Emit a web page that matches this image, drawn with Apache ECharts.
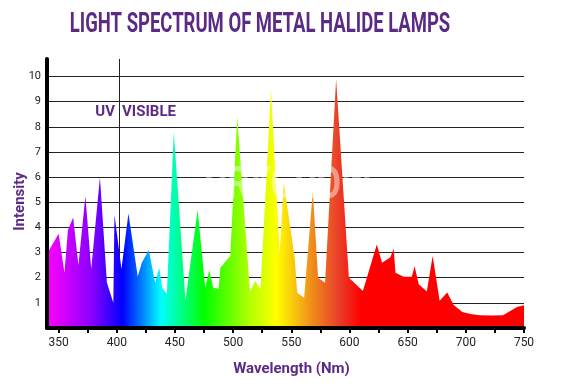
<!DOCTYPE html>
<html>
<head>
<meta charset="utf-8">
<script src="https://cdn.jsdelivr.net/npm/echarts@6/dist/echarts.min.js"></script>
<style>
html,body{margin:0;padding:0;background:#fff;}
#chart{width:575px;height:390px;}
</style>
</head>
<body>
<div id="chart"></div>
<script>
// ---- data ----
const wavelengths = [340,350,355,358,362.5,367,373,378,385.5,391.5,397,398,404,410,418,421.5,427.5,433,436.5,439,443,449,459,469.5,476,479.5,483,487.5,489,497.5,503.5,514.5,519,523.5,532.5,540,543.5,553,555,561,568.5,573,579,588.5,599.5,611.5,623.5,628,635,638,639.5,646.5,653.5,656,659.5,666.5,671.5,677.5,684,689.5,697,704,712,722,732,744,750];
const intensities = [2.95,3.75,2.2,3.9,4.4,2.5,5.25,2.35,6.0,1.8,1.0,4.5,2.35,4.55,2.05,2.6,3.1,1.8,2.4,1.6,1.35,7.8,1.1,4.7,1.6,2.3,1.6,1.55,2.4,2.86,8.4,1.45,1.87,1.54,9.5,3.0,5.8,2.75,1.4,1.2,5.45,2.0,1.8,9.9,2.0,1.47,3.32,2.6,2.8,3.15,2.2,2.04,2.04,2.46,1.74,1.45,2.86,1.08,1.41,0.91,0.64,0.56,0.51,0.5,0.51,0.84,0.9];
const gridValues = [1,2,3,4,5,6,7,8,9,10];
const xLabelValues = [350,400,450,500,550,600,650,700,750];
const xTickValues = [350,375,400,425,450,475,500,525,550,575,600,625,650,675,700,725,750];
const dividerNm = 402;
const titleText = 'LIGHT SPECTRUM OF METAL HALIDE LAMPS';

// ---- style ----
const purple = '#5b2a84';
const xMin = 340, xMax = 750;
const spectrumStops = [
  [340,'#ff00ff'],[379,'#8800ff'],[405,'#0000ff'],[438,'#00ffff'],
  [475,'#00ff00'],[512,'#aaff00'],[537,'#ffff00'],[567,'#f0901a'],
  [590,'#e8402a'],[610,'#ff0000'],[750,'#ff0000']
];
const gradient = new echarts.graphic.LinearGradient(0,0,1,0,
  spectrumStops.map(s => ({offset:(s[0]-xMin)/(xMax-xMin), color:s[1]})));

const chart = echarts.init(document.getElementById('chart'));
chart.setOption({
  animation:false,
  backgroundColor:'#fff',
  grid:{left:47,right:51,top:59,bottom:62,containLabel:false,outerBoundsMode:'none'},
  xAxis:{
    type:'value', min:xMin, max:xMax, z:10,
    axisLine:{show:true,lineStyle:{color:'#000',width:4}},
    axisTick:{show:true,customValues:xTickValues,length:5,lineStyle:{color:'#000',width:2}},
    axisLabel:{customValues:xLabelValues,color:'#222',fontSize:12,fontFamily:'Roboto',margin:9},
    splitLine:{show:false},
    name:'Wavelength (Nm)', nameLocation:'middle', nameGap:34,
    nameTextStyle:{color:purple,fontWeight:'bold',fontSize:15,fontFamily:'Roboto',padding:[0,0,0,12]}
  },
  yAxis:{
    type:'value', min:0, max:10.7, z:10,
    axisLine:{show:true,lineStyle:{color:'#000',width:4}},
    axisTick:{show:false},
    axisLabel:{customValues:gridValues,color:'#222',fontSize:11,fontFamily:'Roboto',margin:6},
    splitLine:{show:false},
    name:'Intensity', nameLocation:'middle', nameGap:19, nameRotate:90, nameMoveOverlap:false,
    nameTextStyle:{color:purple,fontWeight:'bold',fontSize:15,fontFamily:'Roboto',padding:[0,16,0,0]}
  },
  graphic:[
    {type:'text',x:260,y:25,scaleX:0.66,z:50,
     style:{text:titleText,font:'bold 28px Roboto',fill:purple,align:'center',verticalAlign:'middle'}},
    {type:'text',x:115,y:112,z:50,
     style:{text:'UV',font:'bold 15px Roboto',fill:purple,align:'right',verticalAlign:'middle'}},
    {type:'text',x:122,y:112,z:50,
     style:{text:'VISIBLE',font:'bold 15px Roboto',fill:purple,align:'left',verticalAlign:'middle'}},
    {type:'text',x:288,y:187,scaleX:0.8,z:50,
     style:{text:'DRYGROW',font:'bold 44px Roboto',fill:'rgba(255,255,255,0.45)',align:'center',verticalAlign:'middle',
            shadowBlur:4,shadowColor:'rgba(0,0,0,0.08)'}}
  ],
  series:[{
    type:'line', z:2, symbol:'none', silent:true,
    data: wavelengths.map((w,i)=>[w,intensities[i]]),
    lineStyle:{width:0},
    areaStyle:{color:gradient,opacity:1},
    markLine:{
      silent:true, z:1, symbol:['none','none'], label:{show:false},
      lineStyle:{color:'#222',width:1,type:'solid'},
      emphasis:{disabled:true},
      data: gridValues.map(v=>({yAxis:v})).concat([{xAxis:dividerNm}])
    }
  }]
});
</script>
</body>
</html>
